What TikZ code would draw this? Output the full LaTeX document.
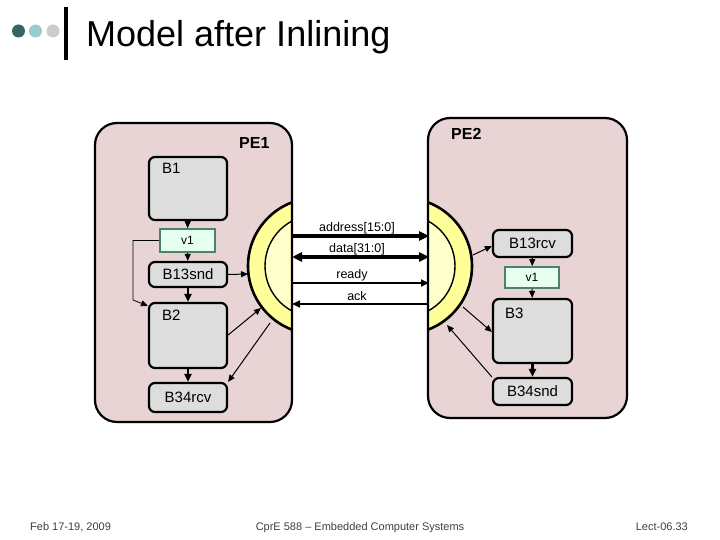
\documentclass[tikz,border=0pt]{standalone}
\usepackage{fontspec}
\setmainfont{Liberation Sans}
\usetikzlibrary{arrows.meta}
\definecolor{pebg}{HTML}{E8D4D4}
\definecolor{blkgray}{HTML}{DDDDDD}
\definecolor{vgreen}{HTML}{E6FFEE}
\definecolor{vborder}{HTML}{4F7F6F}
\definecolor{ringy}{HTML}{FFFF99}
\definecolor{ringin}{HTML}{FFFFCC}
\definecolor{dteal}{HTML}{336666}
\definecolor{lteal}{HTML}{99CCCC}
\definecolor{lgray}{HTML}{CCCCCC}
\definecolor{foot}{HTML}{404040}
\tikzset{
  pebox/.style={line width=2.2pt, rounded corners=22pt},
  blk/.style={draw, line width=2.2pt, fill=blkgray, rounded corners=6pt, inner sep=0pt,
    font=\fontsize{15}{15}\selectfont},
  varbox/.style={draw=vborder, line width=1.6pt, fill=vgreen, inner sep=0pt,
    font=\fontsize{12}{12}\selectfont},
  blklabel/.style={font=\fontsize{15}{15}\selectfont, inner sep=0pt, anchor=north west},
  pelabel/.style={font=\fontsize{16}{16}\selectfont\bfseries, inner sep=0pt},
  siglabel/.style={font=\fontsize{12.5}{12.5}\selectfont, inner sep=0pt},
  arr/.style={-{Triangle[length=7pt,width=6pt]}, line width=1pt},
  thinarr/.style={-{Triangle[length=7pt,width=6pt]}, line width=0.8pt},
  midarr/.style={-{Triangle[length=8pt,width=7pt]}, line width=2.2pt},
  bigarr/.style={-{Triangle[length=10pt,width=9pt]}, line width=3.2pt},
  bigdarr/.style={{Triangle[length=10pt,width=9pt]}-{Triangle[length=10pt,width=9pt]}, line width=3.2pt},
  sigarr/.style={-{Triangle[length=8pt,width=7pt]}, line width=1.7pt},
  footer/.style={font=\fontsize{11}{11}\selectfont, text=foot, inner sep=0pt},
}
\begin{document}
\begin{tikzpicture}[x=1pt,y=-1pt]
\useasboundingbox (0,0) rectangle (720,540);
\fill[white] (0,0) rectangle (720,540);

% title decorations
\fill[dteal] (18.5,31) circle (6.5pt);
\fill[lteal] (35.5,31) circle (6.5pt);
\fill[lgray] (53,31) circle (6.5pt);
\fill[black] (63.5,7) rectangle (67.5,60);
\node[anchor=base west, inner sep=0pt, font=\fontsize{36}{36}\selectfont] (title) at (86,47) {Model after Inlining};

% PE boxes (fill)
\fill[pebg, rounded corners=22pt] (95,123) rectangle (292,422);
\fill[pebg, rounded corners=22pt] (428,118) rectangle (627,418);

% rings
\begin{scope}
  \clip (0,0) rectangle (292,540);
  \draw[line width=2.6pt, fill=ringy] (316,266) circle (68pt);
  \draw[line width=1.4pt, fill=ringin] (316,266) circle (51pt);
\end{scope}
\begin{scope}
  \clip (428,0) rectangle (720,540);
  \draw[line width=2.6pt, fill=ringy] (404,266) circle (68pt);
  \draw[line width=1.4pt, fill=ringin] (404,266) circle (51pt);
\end{scope}

% PE borders
\draw[pebox] (95,123) rectangle (292,422);
\draw[pebox] (428,118) rectangle (627,418);
\node[pelabel, anchor=west] (pe1) at (239,143) {PE1};
\node[pelabel, anchor=west] (pe2) at (451,134) {PE2};

% PE1 blocks
\node[blk, minimum width=78pt, minimum height=63pt] (b1) at (188,188.5) {};
\node[blklabel] (b1l) at (162,163) {B1};
\node[varbox, minimum width=55pt, minimum height=23pt] (v1a) at (187.5,240.5) {v1};
\node[blk, minimum width=78pt, minimum height=25pt] (b13snd) at (188,274.5) {B13snd};
\node[blk, minimum width=78pt, minimum height=65pt] (b2) at (188,335.5) {};
\node[blklabel] (b2l) at (162,310) {B2};
\node[blk, minimum width=78pt, minimum height=29pt] (b34rcv) at (188,397.5) {B34rcv};

% PE2 blocks
\node[blk, minimum width=79pt, minimum height=27pt] (b13rcv) at (532.5,243.5) {B13rcv};
\node[varbox, minimum width=54pt, minimum height=21pt] (v1b) at (532,277.5) {v1};
\node[blk, minimum width=79pt, minimum height=64pt] (b3) at (532.5,331) {};
\node[blklabel] (b3l) at (505,308) {B3};
\node[blk, minimum width=79pt, minimum height=27pt] (b34snd) at (532.5,391.5) {B34snd};

% ring points
\coordinate (r1a) at (248,274);
\coordinate (r1b) at (261,308);
\coordinate (r1c) at (270,323);
\coordinate (r2a) at (473,255);
\coordinate (r2b) at (463,307);
\coordinate (r2c) at (447,325);
\coordinate (k1) at (133,240.5);
\coordinate (k2) at (133,300);

% PE1 connectors
\draw[arr] (b1) -- (v1a);
\draw[arr] (v1a) -- (b13snd);
\draw[midarr] (b13snd) -- (b2);
\draw[midarr] (b2) -- (b34rcv);
\draw[thinarr] (v1a.west) -- (k1) -- (k2) -- ([yshift=-4pt]b2.north west);
\draw[arr] (b13snd.east) -- (r1a);
\draw[arr] (b2.east |- 0,335) -- (r1b);
\draw[arr] (r1c) -- (b34rcv.north east);

% PE2 connectors
\draw[arr] (r2a) -- (b13rcv.west |- 0,246);
\draw[arr] (b13rcv) -- (v1b);
\draw[arr] (v1b) -- (b3);
\draw[midarr] (b3) -- (b34snd);
\draw[arr] (r2b) -- (b3.west |- 0,332);
\draw[arr] (b34snd.west |- 0,377) -- (r2c);

% signals
\coordinate (s1l) at (292,236); \coordinate (s1r) at (429,236);
\coordinate (s2l) at (292,257); \coordinate (s2r) at (429,257);
\coordinate (s3l) at (292,283); \coordinate (s3r) at (429,283);
\coordinate (s4l) at (292,304); \coordinate (s4r) at (429,304);
\draw[bigarr] (s1l) -- (s1r);
\draw[bigdarr] (s2l) -- (s2r);
\draw[sigarr] (s3l) -- (s3r);
\draw[sigarr] (s4r) -- (s4l);
\node[siglabel] (l1) at (357,228) {address[15:0]};
\node[siglabel] (l2) at (357,249) {data[31:0]};
\node[siglabel] (l3) at (352,275) {ready};
\node[siglabel] (l4) at (357,296) {ack};

% footer
\node[footer, anchor=base west] (f1) at (30,530) {Feb 17-19, 2009};
\node[footer, anchor=base] (f2) at (360,530) {CprE 588 -- Embedded Computer Systems};
\node[footer, anchor=base east] (f3) at (688,530) {Lect-06.33};
\end{tikzpicture}
\end{document}
